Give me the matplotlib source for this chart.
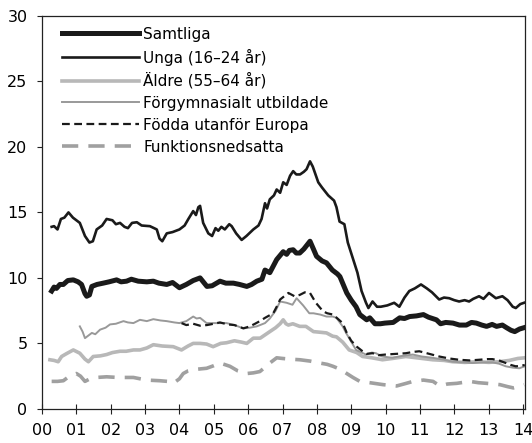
import matplotlib
matplotlib.use("Agg")
import matplotlib.pyplot as plt

plt.rcParams["font.family"] = ["Liberation Sans Narrow", "DejaVu Sans"]

# year fractions and values (percent)
samtliga_t = [2000.28, 2000.35, 2000.42, 2000.52, 2000.62, 2000.75, 2000.91, 2001.05, 2001.15, 2001.25,
              2001.3, 2001.38, 2001.45, 2001.6, 2001.78, 2001.95, 2002.17, 2002.3, 2002.46, 2002.6,
              2002.8, 2003.05, 2003.24, 2003.4, 2003.63, 2003.8, 2004.0, 2004.2, 2004.4, 2004.5,
              2004.6, 2004.8, 2004.95, 2005.18, 2005.35, 2005.57, 2005.75, 2005.96, 2006.1, 2006.25,
              2006.4, 2006.49, 2006.63, 2006.75, 2006.83, 2007.02, 2007.12, 2007.2, 2007.31, 2007.4,
              2007.5, 2007.62, 2007.8, 2007.9, 2007.99, 2008.15, 2008.28, 2008.45, 2008.6, 2008.67,
              2008.87, 2009.0, 2009.14, 2009.25, 2009.35, 2009.45, 2009.54, 2009.69, 2009.85, 2009.98,
              2010.22, 2010.41, 2010.55, 2010.7, 2010.9, 2011.1, 2011.25, 2011.48, 2011.6, 2011.75,
              2011.96, 2012.15, 2012.35, 2012.5, 2012.64, 2012.8, 2012.94, 2013.1, 2013.23, 2013.4,
              2013.52, 2013.65, 2013.76, 2013.9, 2014.03]
samtliga = [9.0, 9.3, 9.2, 9.5, 9.5, 9.8, 9.85, 9.7, 9.5, 8.8,
            8.6, 8.7, 9.35, 9.5, 9.6, 9.7, 9.85, 9.7, 9.75, 9.9,
            9.75, 9.7, 9.75, 9.6, 9.5, 9.65, 9.25, 9.5, 9.8, 9.9,
            10.0, 9.35, 9.4, 9.75, 9.6, 9.6, 9.5, 9.35, 9.5, 9.75,
            9.9, 10.6, 10.4, 11.0, 11.4, 12.0, 11.8, 12.1, 12.15, 11.9,
            11.9, 12.2, 12.8, 12.2, 11.65, 11.3, 11.15, 10.6, 10.3, 10.1,
            8.85, 8.3, 7.8, 7.2, 7.0, 6.8, 6.95, 6.5, 6.5, 6.55,
            6.6, 6.95, 6.9, 7.05, 7.1, 7.2, 7.0, 6.8, 6.5, 6.6,
            6.55, 6.4, 6.4, 6.6, 6.55, 6.4, 6.3, 6.45, 6.3, 6.4,
            6.2, 6.0, 5.9, 6.1, 6.2]

unga_t = [2000.28, 2000.35, 2000.45, 2000.55, 2000.65, 2000.77, 2000.9, 2001.1, 2001.25, 2001.38,
          2001.48, 2001.59, 2001.75, 2001.88, 2002.05, 2002.15, 2002.27, 2002.4, 2002.5, 2002.62,
          2002.76, 2002.9, 2003.14, 2003.34, 2003.42, 2003.5, 2003.63, 2003.8, 2004.0, 2004.15,
          2004.26, 2004.4, 2004.48, 2004.55, 2004.6, 2004.69, 2004.84, 2004.95, 2005.05, 2005.13,
          2005.22, 2005.32, 2005.45, 2005.52, 2005.65, 2005.81, 2005.95, 2006.15, 2006.3, 2006.39,
          2006.49, 2006.55, 2006.63, 2006.75, 2006.83, 2006.93, 2007.02, 2007.12, 2007.22, 2007.31,
          2007.4, 2007.51, 2007.62, 2007.7, 2007.8, 2007.88, 2008.04, 2008.15, 2008.33, 2008.5,
          2008.57, 2008.66, 2008.8, 2008.9, 2009.18, 2009.3, 2009.43, 2009.5, 2009.62, 2009.75,
          2009.86, 2010.05, 2010.25, 2010.4, 2010.55, 2010.69, 2010.85, 2011.03, 2011.2, 2011.35,
          2011.56, 2011.7, 2011.85, 2012.0, 2012.14, 2012.3, 2012.43, 2012.55, 2012.72, 2012.85,
          2013.01, 2013.21, 2013.4, 2013.55, 2013.7, 2013.79, 2013.92, 2014.03]
unga = [13.9, 13.95, 13.7, 14.5, 14.6, 15.0, 14.6, 14.2, 13.2, 12.7,
        12.8, 13.7, 14.0, 14.5, 14.4, 14.1, 14.2, 13.9, 13.8, 14.2,
        14.25, 14.0, 13.95, 13.7, 13.0, 12.8, 13.4, 13.5, 13.7, 14.0,
        14.5, 15.1, 14.8, 15.4, 15.5, 14.2, 13.4, 13.2, 13.8, 13.6,
        13.9, 13.7, 14.1, 13.95, 13.4, 12.9, 13.2, 13.7, 14.0, 14.5,
        15.7, 15.3, 16.0, 16.3, 16.75, 16.5, 17.3, 17.1, 17.8, 18.15,
        17.9, 17.9, 18.1, 18.3, 18.9, 18.5, 17.3, 16.9, 16.3, 15.9,
        15.4, 14.3, 14.1, 12.7, 10.4, 9.0, 8.1, 7.7, 8.2, 7.8,
        7.8, 7.9, 8.1, 7.8, 8.5, 9.0, 9.2, 9.5, 9.2, 8.9,
        8.35, 8.5, 8.45, 8.3, 8.2, 8.3, 8.2, 8.4, 8.6, 8.4,
        8.85, 8.45, 8.6, 8.3, 7.8, 7.7, 8.0, 8.1]

aldre_t = [2000.23, 2000.35, 2000.47, 2000.57, 2000.7, 2000.91, 2001.1, 2001.25, 2001.35, 2001.49,
           2001.7, 2001.88, 2002.05, 2002.27, 2002.45, 2002.66, 2002.85, 2003.05, 2003.24, 2003.5,
           2003.82, 2004.06, 2004.25, 2004.4, 2004.6, 2004.79, 2004.98, 2005.2, 2005.37, 2005.6,
           2005.8, 2005.96, 2006.15, 2006.35, 2006.49, 2006.63, 2006.8, 2006.93, 2007.02, 2007.1,
           2007.17, 2007.3, 2007.5, 2007.68, 2007.9, 2008.1, 2008.28, 2008.46, 2008.57, 2008.75,
           2008.94, 2009.16, 2009.33, 2009.6, 2009.91, 2010.2, 2010.59, 2010.9, 2011.37, 2011.7,
           2011.95, 2012.3, 2012.72, 2013.0, 2013.3, 2013.6, 2013.85, 2014.05]
aldre = [3.75, 3.7, 3.6, 4.0, 4.2, 4.5, 4.25, 3.8, 3.6, 4.0,
         4.05, 4.15, 4.3, 4.4, 4.4, 4.5, 4.5, 4.65, 4.9, 4.8,
         4.75, 4.5, 4.8, 5.0, 5.0, 4.95, 4.75, 5.0, 5.05, 5.2,
         5.1, 5.0, 5.4, 5.4, 5.65, 5.9, 6.2, 6.5, 6.8, 6.5,
         6.4, 6.5, 6.3, 6.3, 5.9, 5.85, 5.8, 5.55, 5.5, 5.1,
         4.5, 4.3, 4.0, 3.9, 3.75, 3.85, 4.0, 3.9, 3.75, 3.7,
         3.6, 3.55, 3.6, 3.55, 3.6, 3.7, 3.85, 3.9]

forgym_t = [2001.1, 2001.18, 2001.25, 2001.35, 2001.45, 2001.55, 2001.69, 2001.85, 2001.98, 2002.15,
            2002.37, 2002.5, 2002.66, 2002.85, 2003.05, 2003.24, 2003.45, 2003.63, 2003.85, 2004.0,
            2004.2, 2004.4, 2004.5, 2004.6, 2004.79, 2005.08, 2005.37, 2005.6, 2005.86, 2006.05,
            2006.25, 2006.49, 2006.63, 2006.8, 2006.93, 2007.12, 2007.29, 2007.41, 2007.6, 2007.78,
            2007.9, 2008.1, 2008.28, 2008.46, 2008.57, 2008.75, 2008.85, 2008.96, 2009.14, 2009.3,
            2009.43, 2009.6, 2009.72, 2009.9, 2010.2, 2010.5, 2010.79, 2011.05, 2011.37, 2011.7,
            2011.95, 2012.25, 2012.53, 2012.85, 2013.11, 2013.3, 2013.5, 2013.7, 2013.89, 2014.05]
forgym = [6.3, 5.9, 5.4, 5.6, 5.8, 5.7, 6.05, 6.2, 6.45, 6.5,
          6.7, 6.6, 6.55, 6.8, 6.7, 6.85, 6.75, 6.7, 6.6, 6.55,
          6.7, 7.05, 6.9, 6.95, 6.55, 6.55, 6.55, 6.4, 6.15, 6.2,
          6.3, 6.55, 6.9, 7.5, 8.2, 8.1, 7.95, 8.45, 7.9, 7.3,
          7.3, 7.2, 7.05, 7.05, 6.95, 6.3, 5.8, 5.3, 4.5, 4.3,
          4.15, 4.3, 4.25, 4.0, 3.9, 4.05, 4.15, 4.0, 3.9, 3.75,
          3.6, 3.55, 3.5, 3.55, 3.55, 3.45, 3.25, 3.15, 3.1, 3.25]

fodda_t = [2004.06, 2004.2, 2004.4, 2004.6, 2004.8, 2005.0, 2005.18, 2005.4, 2005.6, 2005.86,
           2006.05, 2006.2, 2006.34, 2006.49, 2006.73, 2006.85, 2006.93, 2007.05, 2007.17, 2007.35,
           2007.5, 2007.65, 2007.8, 2007.97, 2008.18, 2008.3, 2008.47, 2008.6, 2008.75, 2008.87,
           2009.0, 2009.16, 2009.33, 2009.45, 2009.62, 2009.8, 2010.0, 2010.3, 2010.59, 2010.8,
           2010.98, 2011.2, 2011.56, 2011.85, 2012.14, 2012.45, 2012.72, 2012.95, 2013.11, 2013.3,
           2013.5, 2013.65, 2013.79, 2013.95, 2014.05]
fodda = [6.55, 6.4, 6.5, 6.35, 6.4, 6.5, 6.6, 6.45, 6.4, 6.15,
         6.3, 6.5, 6.7, 6.95, 7.3, 7.9, 8.35, 8.6, 8.85, 8.6,
         8.7, 8.9, 8.85, 8.1, 7.45, 7.3, 7.2, 6.9, 6.55, 5.8,
         5.2, 4.75, 4.4, 4.2, 4.25, 4.1, 4.15, 4.2, 4.25, 4.35,
         4.4, 4.25, 4.0, 3.85, 3.75, 3.7, 3.75, 3.8, 3.8, 3.7,
         3.5, 3.35, 3.25, 3.3, 3.35]

funk_t = [2000.28, 2000.45, 2000.62, 2000.8, 2001.0, 2001.12, 2001.25, 2001.4, 2001.59, 2001.88,
          2002.2, 2002.66, 2002.85, 2003.05, 2003.43, 2003.65, 2003.82, 2004.0, 2004.11, 2004.25,
          2004.4, 2004.79, 2005.0, 2005.18, 2005.3, 2005.47, 2005.7, 2005.96, 2006.15, 2006.34,
          2006.5, 2006.63, 2006.83, 2007.0, 2007.21, 2007.51, 2007.8, 2008.09, 2008.3, 2008.47,
          2008.7, 2008.87, 2009.05, 2009.25, 2009.54, 2009.93, 2010.32, 2010.6, 2010.8, 2011.1,
          2011.38, 2011.58, 2011.8, 2012.07, 2012.45, 2012.7, 2012.94, 2013.33, 2013.55, 2013.72,
          2013.88, 2014.03]
funk = [2.1, 2.1, 2.15, 2.5, 2.7, 2.5, 2.1, 2.3, 2.4, 2.45,
        2.4, 2.4, 2.3, 2.2, 2.15, 2.1, 1.95, 2.3, 2.7, 2.9,
        3.0, 3.1, 3.3, 3.5, 3.4, 3.25, 2.9, 2.7, 2.75, 2.85,
        3.2, 3.5, 3.9, 3.85, 3.8, 3.75, 3.65, 3.5, 3.4, 3.25,
        3.0, 2.7, 2.4, 2.1, 2.0, 1.85, 1.75, 1.95, 2.1, 2.2,
        2.1, 1.75, 1.9, 1.95, 2.1, 2.0, 1.95, 1.85, 1.7, 1.6,
        1.7, 1.85]

years = list(range(2000, 2015))
year_labels = ["%02d" % (y % 100) for y in years]

fig = plt.figure(figsize=(5.32, 4.43), dpi=100)
ax = fig.add_axes([0.079, 0.077, 0.908, 0.887])

ax.plot(samtliga_t, samtliga, color="#1a1a1a", lw=3.6, solid_joinstyle="round", label="Samtliga")
ax.plot(unga_t, unga, color="#1a1a1a", lw=1.9, label="Unga (16–24 år)")
ax.plot(aldre_t, aldre, color="#b8b8b8", lw=2.6, label="Äldre (55–64 år)")
ax.plot(forgym_t, forgym, color="#999999", lw=1.4, label="Förgymnasialt utbildade")
ax.plot(fodda_t, fodda, color="#1a1a1a", lw=1.6, dashes=(3.5, 2), label="Födda utanför Europa")
ax.plot(funk_t, funk, color="#a0a0a0", lw=2.6, dashes=(4.5, 2.8), label="Funktionsnedsatta")

ax.set_xlim(2000, 2014.06)
ax.set_ylim(0, 30)
ax.set_xticks(years)
ax.set_xticklabels(year_labels)
ax.set_yticks(range(0, 31, 5))
ax.tick_params(axis="both", labelsize=11.5, width=0.8, color="#222222")
ax.tick_params(axis="x", direction="inout", length=7, pad=7)
ax.tick_params(axis="y", direction="out", length=3.5, pad=7)
for s in ax.spines.values():
    s.set_linewidth(0.9)
    s.set_color("#222222")

ax.legend(loc="upper left", frameon=False, fontsize=11, handlelength=5.0,
          handletextpad=0.3, labelspacing=0.45, borderaxespad=0.3,
          bbox_to_anchor=(0.02, 1.0))

fig.savefig("out.png", dpi=100)
